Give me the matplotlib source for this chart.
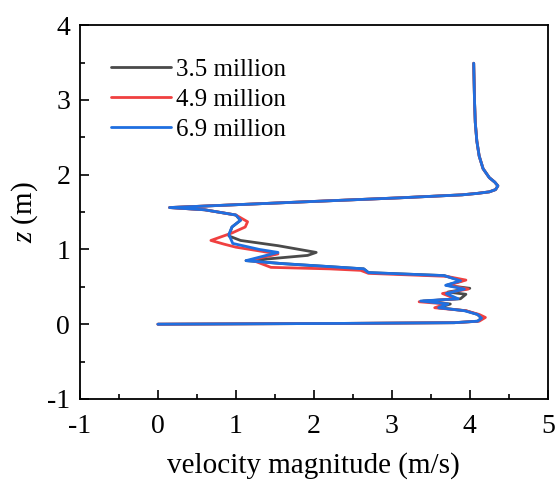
import matplotlib
matplotlib.use('Agg')
import matplotlib.pyplot as plt
from matplotlib.ticker import MultipleLocator
import numpy as np

plt.rcParams['font.family'] = ['Liberation Serif', 'DejaVu Serif']
plt.rcParams['mathtext.fontset'] = 'custom'
plt.rcParams['mathtext.rm'] = 'Liberation Serif'
plt.rcParams['mathtext.it'] = 'Liberation Serif:italic'
plt.rcParams['axes.unicode_minus'] = False

labels = ['3.5 million', '4.9 million', '6.9 million']
colors = ['#4a4a4a', '#f04040', '#1f6fe0']

# common upper part of the profile (all meshes agree)
v_top = [0.15, 1.5, 3.1, 3.9, 4.1, 4.25, 4.33, 4.36, 4.32, 4.25, 4.17, 4.12, 4.09, 4.07, 4.06, 4.05]
z_top = [1.56, 1.62, 1.69, 1.73, 1.75, 1.77, 1.8, 1.85, 1.9, 1.96, 2.08, 2.25, 2.45, 2.7, 3.0, 3.49]

# 3.5 million
v_35 = [0, 2.3, 3.8, 4.1, 4.15, 4.1, 3.95, 3.6, 3.75, 3.4, 3.88, 3.95, 3.72, 4.0, 3.7, 3.9,
        3.67, 2.7, 2.64, 2.2, 1.6, 1.13,
        1.49, 1.92, 2.03, 1.54, 1.06, 0.91, 0.95, 1.06, 1.0, 0.6]
z_35 = [0, 0.01, 0.02, 0.04, 0.08, 0.13, 0.18, 0.22, 0.27, 0.31, 0.34, 0.40, 0.43, 0.48, 0.52, 0.58,
        0.65, 0.69, 0.74, 0.77, 0.81, 0.85,
        0.88, 0.92, 0.96, 1.05, 1.12, 1.18, 1.3, 1.39, 1.46, 1.53]

# 4.9 million
v_49 = [0, 2.3, 3.8, 4.12, 4.2, 4.12, 3.95, 3.55, 3.7, 3.35, 3.82, 3.65, 3.98, 3.72, 3.95, 3.7,
        2.7, 2.6, 2.2, 1.45, 1.2,
        1.54, 1.36, 1.0, 0.85, 0.68, 0.95, 1.12, 1.15, 1.0, 0.6]
z_49 = [0, 0.01, 0.02, 0.04, 0.09, 0.13, 0.18, 0.22, 0.27, 0.30, 0.34, 0.41, 0.47, 0.52, 0.59, 0.64,
        0.68, 0.72, 0.74, 0.76, 0.86,
        0.94, 0.97, 1.03, 1.07, 1.12, 1.22, 1.3, 1.37, 1.46, 1.53]

# 6.9 million
v_69 = [0, 2.3, 3.8, 4.1, 4.15, 4.1, 3.93, 3.6, 3.72, 3.37, 3.85, 3.7, 3.93, 3.69, 3.88,
        3.67, 2.7, 2.64, 2.2, 1.6, 1.13,
        1.54, 1.3, 0.96, 0.91, 0.95, 1.06, 1.0, 0.6]
z_69 = [0, 0.01, 0.02, 0.04, 0.08, 0.13, 0.18, 0.22, 0.27, 0.31, 0.34, 0.41, 0.47, 0.52, 0.58,
        0.65, 0.69, 0.74, 0.77, 0.81, 0.85,
        0.96, 1.0, 1.08, 1.2, 1.3, 1.39, 1.46, 1.53]

fig = plt.figure(figsize=(5.55, 4.83), dpi=100)
ax = fig.add_axes([0.144, 0.174, 0.843, 0.774])

for v, z, c, lab in zip([v_35, v_49, v_69], [z_35, z_49, z_69], colors, labels):
    ax.plot(v + v_top, z + z_top, color=c, lw=2.0, label=lab,
            solid_joinstyle='round', solid_capstyle='round')

ax.set_xlim(-1, 5)
ax.set_ylim(-1, 4)
ax.xaxis.set_major_locator(MultipleLocator(1))
ax.xaxis.set_minor_locator(MultipleLocator(0.5))
ax.yaxis.set_major_locator(MultipleLocator(1))
ax.yaxis.set_minor_locator(MultipleLocator(0.5))
ax.tick_params(which='both', direction='in', labelsize=20, width=1.2)
ax.tick_params(which='major', length=6.5)
ax.tick_params(which='minor', length=3.3)
ax.tick_params(axis='x', which='major', pad=11)
ax.tick_params(axis='y', which='major', pad=7)
for s in ax.spines.values():
    s.set_linewidth(1.3)

ax.set_xlabel('velocity magnitude (m/s)', fontsize=21, labelpad=9)
ax.set_ylabel('$z$ (m)', fontsize=21, labelpad=5)

ax.legend(loc='upper left', bbox_to_anchor=(0.034, 0.951), frameon=False, fontsize=18,
          handlelength=2.4, handletextpad=0.2, labelspacing=0.3, borderaxespad=0.2)

plt.savefig('out.png', dpi=100)
